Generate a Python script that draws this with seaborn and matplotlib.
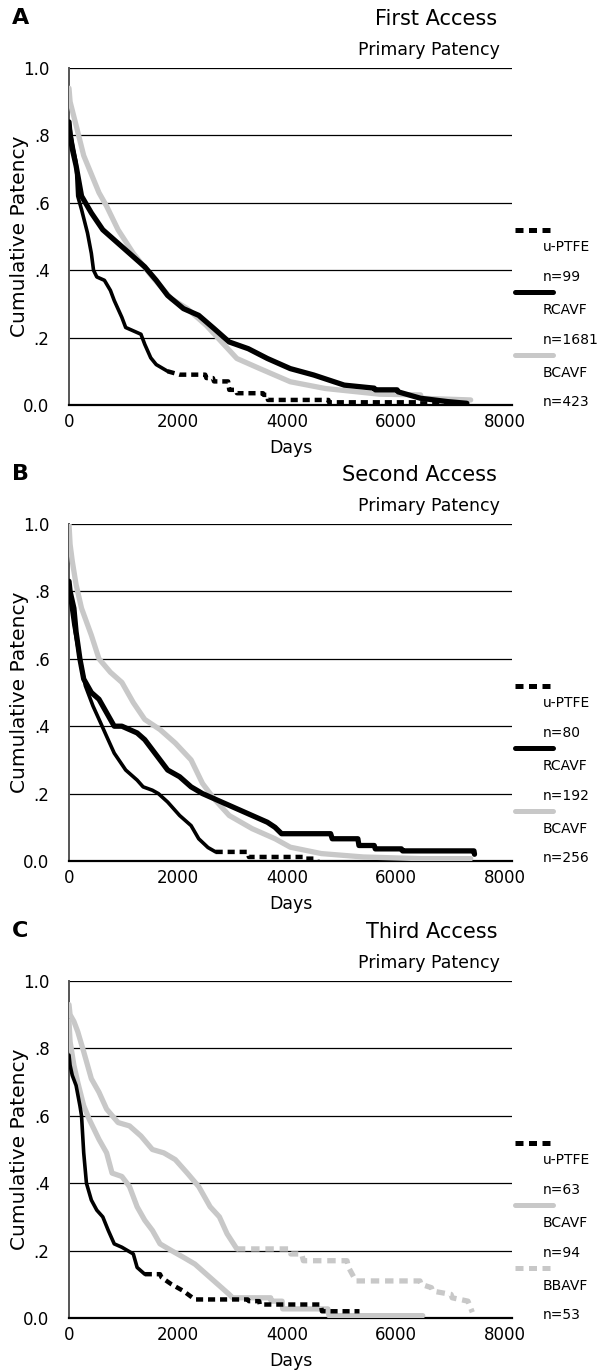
import numpy as np
import pandas as pd
import seaborn as sns
import matplotlib.pyplot as plt

sns.set_style("white")
plt.rcParams['font.family'] = ['DejaVu Sans']
plt.rcParams['text.color'] = 'black'
plt.rcParams['axes.labelcolor'] = 'black'
plt.rcParams['xtick.color'] = 'black'
plt.rcParams['ytick.color'] = 'black'

GRAY = '#c8c8c8'

# --- A: first access (days, cumulative patency) ---
a_ptfe_days = [0, 60, 130, 160, 230, 340, 410, 450, 510, 650, 760, 830, 970, 1040, 1180, 1320, 1390, 1500,
               1600, 1810, 2030, 2500, 2520, 2640, 2660, 2920, 2940, 3060, 3080, 3560, 3570, 3640, 3650,
               4760, 4770, 6380, 6390, 7260]
a_ptfe_surv = [0.84, 0.78, 0.72, 0.62, 0.58, 0.51, 0.45, 0.40, 0.38, 0.37, 0.34, 0.31, 0.26, 0.23, 0.22, 0.21, 0.18, 0.14,
               0.12, 0.10, 0.09, 0.09, 0.08, 0.08, 0.07, 0.07, 0.045, 0.045, 0.035, 0.035, 0.03, 0.03, 0.015,
               0.015, 0.008, 0.008, 0.005, 0.005]
a_rc_days = [0, 20, 60, 130, 230, 410, 620, 830, 1110, 1390, 1600, 1810, 2100, 2380, 2660, 2940,
             3290, 3640, 4060, 4490, 5050, 5600, 5620, 6020, 6040, 6450, 6950, 7300]
a_rc_surv = [0.84, 0.80, 0.76, 0.71, 0.62, 0.57, 0.52, 0.49, 0.45, 0.41, 0.37, 0.325, 0.286, 0.266, 0.227, 0.187,
             0.167, 0.138, 0.108, 0.089, 0.059, 0.05, 0.045, 0.045, 0.039, 0.02, 0.01, 0.005]
a_bc_days = [0, 20, 130, 270, 550, 690, 900, 1180, 1530, 1880, 2170, 2520, 2800, 3080, 3500,
             4060, 4700, 5700, 6450, 6470, 7370]
a_bc_surv = [0.94, 0.90, 0.83, 0.74, 0.63, 0.59, 0.52, 0.45, 0.38, 0.315, 0.286, 0.236, 0.187, 0.138, 0.108,
             0.069, 0.049, 0.032, 0.03, 0.02, 0.015]

# --- B: second access ---
b_ptfe_days = [0, 20, 90, 200, 300, 440, 580, 690, 830, 1040, 1250, 1360, 1530, 1640, 1810, 2030,
               2240, 2380, 2550, 2690, 3280, 3300, 4340, 4350, 4550, 4560]
b_ptfe_surv = [0.82, 0.78, 0.70, 0.60, 0.52, 0.46, 0.41, 0.37, 0.32, 0.27, 0.24, 0.22, 0.21, 0.20, 0.175, 0.135,
               0.105, 0.066, 0.04, 0.027, 0.027, 0.012, 0.012, 0.007, 0.007, 0.0]
b_rc_days = [0, 20, 90, 130, 200, 270, 410, 550, 690, 830, 970, 1250, 1390, 1530, 1670, 1810, 2030,
             2240, 2450, 2660, 2940, 3220, 3640, 3780, 3900, 4800, 4830, 5300, 5320, 5600, 5620, 6100,
             6120, 7430, 7440]
b_rc_surv = [0.83, 0.80, 0.75, 0.68, 0.60, 0.54, 0.50, 0.48, 0.44, 0.40, 0.40, 0.38, 0.36, 0.33, 0.30, 0.27, 0.25,
             0.22, 0.20, 0.185, 0.165, 0.145, 0.115, 0.10, 0.081, 0.081, 0.066, 0.066, 0.046, 0.046, 0.036, 0.036,
             0.03, 0.03, 0.02]
b_bc_days = [0, 20, 60, 130, 230, 410, 550, 760, 970, 1180, 1390, 1670, 1950, 2240, 2450, 2660,
             2940, 3360, 3780, 4060, 4630, 5400, 6450, 7370]
b_bc_surv = [1.0, 0.94, 0.89, 0.82, 0.75, 0.67, 0.60, 0.56, 0.53, 0.47, 0.42, 0.39, 0.35, 0.30, 0.23, 0.185,
             0.135, 0.096, 0.066, 0.041, 0.022, 0.012, 0.007, 0.007]

# --- C: third access ---
c_ptfe_days = [0, 20, 60, 130, 200, 230, 270, 320, 410, 510, 620, 720, 830, 970, 1180, 1250, 1390,
               1670, 1700, 1880, 2100, 2310, 3280, 3300, 3490, 3500, 4620, 4640, 5330]
c_ptfe_surv = [0.78, 0.75, 0.72, 0.69, 0.63, 0.60, 0.49, 0.40, 0.35, 0.32, 0.30, 0.26, 0.22, 0.21, 0.19, 0.15, 0.13,
               0.13, 0.12, 0.10, 0.08, 0.055, 0.055, 0.05, 0.05, 0.04, 0.04, 0.02, 0.02]
c_bc_days = [0, 20, 90, 160, 270, 370, 550, 690, 790, 970, 1110, 1250, 1390, 1530, 1670, 1880, 2100,
             2310, 2520, 2730, 2940, 3000, 3700, 3710, 3910, 3920, 4750, 4770, 6490]
c_bc_surv = [0.88, 0.82, 0.75, 0.70, 0.63, 0.59, 0.53, 0.49, 0.43, 0.42, 0.39, 0.33, 0.29, 0.26, 0.22, 0.20, 0.18,
             0.16, 0.13, 0.10, 0.07, 0.06, 0.06, 0.05, 0.05, 0.027, 0.027, 0.007, 0.007]
c_bb_days = [0, 20, 90, 160, 270, 410, 550, 690, 900, 1110, 1320, 1530, 1740, 1950, 2170, 2380, 2590,
             2760, 2900, 3080, 4050, 4070, 4270, 4300, 5100, 5130, 5230, 5260, 6440, 6460, 6650, 6670,
             7010, 7030, 7320, 7400]
c_bb_surv = [0.93, 0.90, 0.88, 0.85, 0.79, 0.71, 0.67, 0.62, 0.58, 0.57, 0.54, 0.50, 0.49, 0.47, 0.43, 0.39, 0.33,
             0.30, 0.25, 0.205, 0.205, 0.19, 0.19, 0.17, 0.17, 0.15, 0.12, 0.11, 0.11, 0.10, 0.09, 0.08,
             0.07, 0.06, 0.05, 0.017]

yticks = [0.0, 0.2, 0.4, 0.6, 0.8, 1.0]
ytick_labels = ['0.0', '.2', '.4', '.6', '.8', '1.0']
xticks = [0, 2000, 4000, 6000, 8000]

# dense stepped part reads as a solid line in SPSS, the long flat tail as dashes
BLACK_DASH = dict(color='black', lw=2.6, dash_lw=3.2, ls=(0, (1.6, 1.1)))
BLACK_SOLID = dict(color='black', lw=3.8, ls='-')
GRAY_SOLID = dict(color=GRAY, lw=3.8, ls='-')
GRAY_DASH = dict(color=GRAY, lw=3.8, dash_lw=3.8, ls=(0, (1.6, 1.1)))

panels = [
    ('A', 'First Access', 68, [
        ('u-PTFE', 'n=99', a_ptfe_days, a_ptfe_surv, BLACK_DASH, 1810),
        ('RCAVF', 'n=1681', a_rc_days, a_rc_surv, BLACK_SOLID, None),
        ('BCAVF', 'n=423', a_bc_days, a_bc_surv, GRAY_SOLID, None)]),
    ('B', 'Second Access', 524, [
        ('u-PTFE', 'n=80', b_ptfe_days, b_ptfe_surv, BLACK_DASH, 2690),
        ('RCAVF', 'n=192', b_rc_days, b_rc_surv, BLACK_SOLID, None),
        ('BCAVF', 'n=256', b_bc_days, b_bc_surv, GRAY_SOLID, None)]),
    ('C', 'Third Access', 981, [
        ('u-PTFE', 'n=63', c_ptfe_days, c_ptfe_surv, BLACK_DASH, 1390),
        ('BCAVF', 'n=94', c_bc_days, c_bc_surv, GRAY_SOLID, None),
        ('BBAVF', 'n=53', c_bb_days, c_bb_surv, GRAY_DASH, 3080)]),
]

W, H = 600, 1371
fig = plt.figure(figsize=(W / 100, H / 100), dpi=100)
ax_h = 337

for letter, title, top, series in panels:
    ax = fig.add_axes([69 / W, 1 - (top + ax_h) / H, 443 / W, ax_h / H])

    for g in [0.2, 0.4, 0.6, 0.8, 1.0]:
        ax.axhline(g, color='black', lw=0.9, zorder=1)

    # gray curves first so black sits above where they overlap
    for name, n, days, surv, st, split in sorted(series, key=lambda s: s[4]['color'] == 'black'):
        df = pd.DataFrame({'days': days, 'surv': surv})
        if split is None:
            sns.lineplot(data=df, x='days', y='surv', ax=ax, sort=False, color=st['color'],
                         lw=st['lw'], errorbar=None, estimator=None, zorder=3)
        else:
            head = df[df['days'] <= split]
            tail = df[df['days'] >= split]
            sns.lineplot(data=head, x='days', y='surv', ax=ax, sort=False, color=st['color'],
                         lw=st['lw'], errorbar=None, estimator=None, zorder=3)
            sns.lineplot(data=tail, x='days', y='surv', ax=ax, sort=False, color=st['color'],
                         lw=st['dash_lw'], linestyle=st['ls'], errorbar=None, estimator=None, zorder=3)

    ax.set_xlim(0, 8128)
    ax.set_ylim(0, 1.0)
    ax.set_yticks(yticks)
    ax.set_yticklabels(ytick_labels)
    ax.set_xticks(xticks)
    ax.set_xticklabels([str(x) for x in xticks])
    ax.tick_params(axis='both', length=0, labelsize=12)
    ax.tick_params(axis='y', pad=14)
    ax.tick_params(axis='x', pad=6)
    for side in ['top', 'right']:
        ax.spines[side].set_visible(False)
    ax.spines['left'].set_color('#555555')
    ax.spines['left'].set_linewidth(1.4)
    ax.spines['bottom'].set_color('black')
    ax.spines['bottom'].set_linewidth(1.6)

    ax.set_xlabel('Days', fontsize=12.5)
    ax.xaxis.set_label_coords(0.5, -0.1)
    ax.xaxis.label.set_va('top')
    ax.set_ylabel('Cumulative Patency', fontsize=14.5)
    ax.yaxis.set_label_coords(-0.09, 0.5)

    # SPSS style legend: key line above, label and n below it
    hy = [0.519, 0.335, 0.148]
    ly = [0.469, 0.282, 0.095]
    ny = [0.380, 0.193, 0.009]
    for i, (name, n, days, surv, st, split) in enumerate(series):
        ax.plot([1.007, 1.093], [hy[i], hy[i]], transform=ax.transAxes, clip_on=False,
                color=st['color'], lw=3.6, ls=st['ls'])
        ax.text(1.07, ly[i], name, transform=ax.transAxes, ha='left', va='center', fontsize=10)
        ax.text(1.07, ny[i], n, transform=ax.transAxes, ha='left', va='center', fontsize=10)

    fig.text(12 / W, 1 - (top - 50) / H, letter, fontsize=16, fontweight='bold', ha='left', va='center')
    fig.text(497 / W, 1 - (top - 49) / H, title, fontsize=15, ha='right', va='center')
    fig.text(500 / W, 1 - (top - 18) / H, 'Primary Patency', fontsize=12.5, ha='right', va='center')

plt.savefig('out.png', dpi=100)
